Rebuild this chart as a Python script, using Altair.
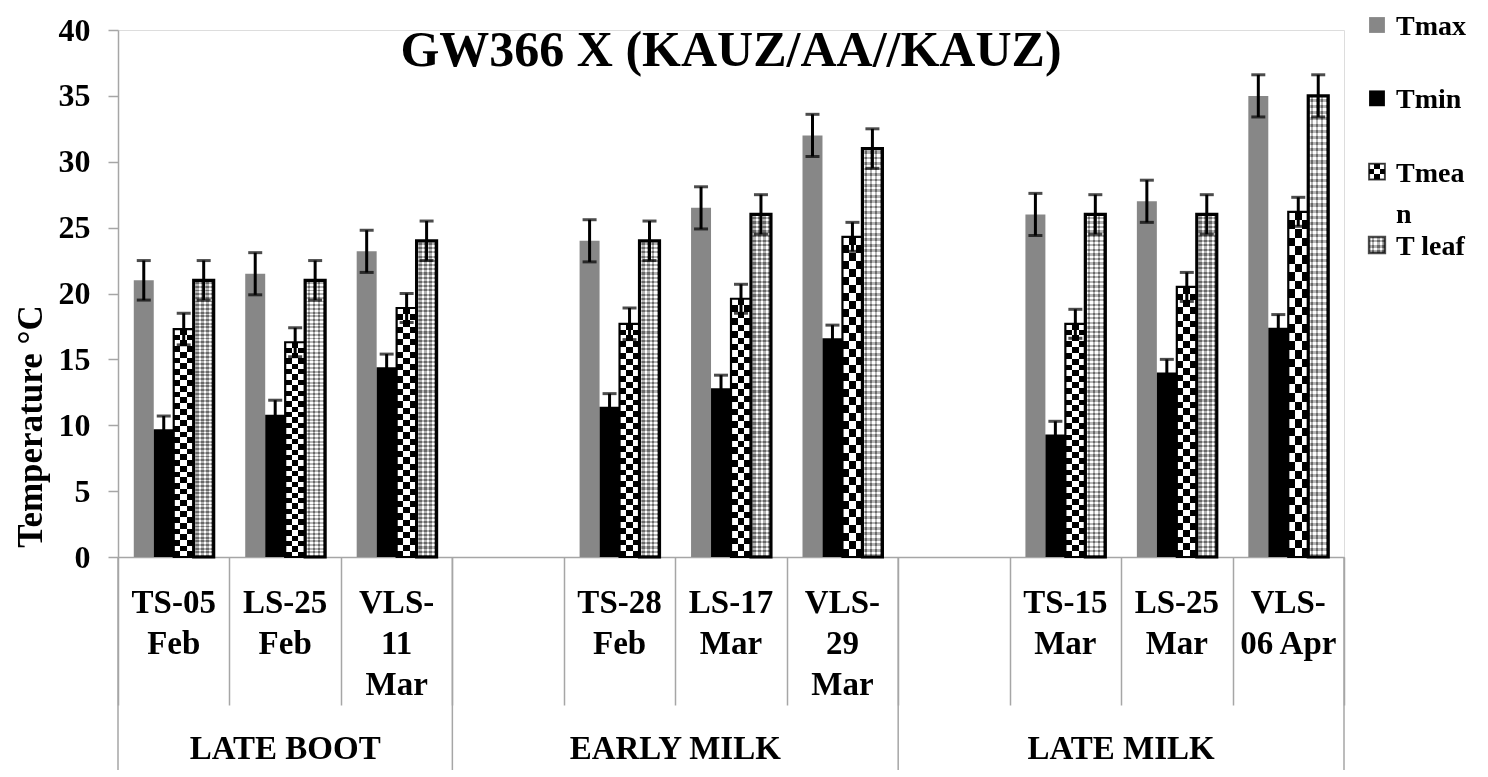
import altair as alt
import pandas as pd

# ---------------- data ----------------
chart_title = ["GW366 X (KAUZ/AA//KAUZ)"]
slots = ["TS-05 Feb", "LS-25 Feb", "VLS-11 Mar", "gap1",
         "TS-28 Feb", "LS-17 Mar", "VLS-29 Mar", "gap2",
         "TS-15 Mar", "LS-25 Mar", "VLS-06 Apr"]
stages = ["TS-05 Feb", "LS-25 Feb", "VLS-11 Mar",
          "TS-28 Feb", "LS-17 Mar", "VLS-29 Mar",
          "TS-15 Mar", "LS-25 Mar", "VLS-06 Apr"]
stage_labels = ["TS-05\nFeb", "LS-25\nFeb", "VLS-\n11\nMar",
                "TS-28\nFeb", "LS-17\nMar", "VLS-\n29\nMar",
                "TS-15\nMar", "LS-25\nMar", "VLS-\n06 Apr"]
series = ["Tmax", "Tmin", "Tmean", "T leaf"]
legend_labels = ["Tmax", "Tmin", "Tmea\nn", "T leaf"]

tmax = [21.0, 21.5, 23.2, 24.0, 26.5, 32.0, 26.0, 27.0, 35.0]
tmin = [9.7, 10.8, 14.4, 11.4, 12.8, 16.6, 9.3, 14.0, 17.4]
tmean = [17.3, 16.3, 18.9, 17.7, 19.6, 24.3, 17.7, 20.5, 26.2]
tleaf = [21.0, 21.0, 24.0, 24.0, 26.0, 31.0, 26.0, 26.0, 35.0]

err_tmax = [1.5, 1.6, 1.6, 1.6, 1.6, 1.6, 1.6, 1.6, 1.6]
err_tmin = [1.0, 1.1, 1.0, 1.0, 1.0, 1.0, 1.0, 1.0, 1.0]
err_tmean = [1.2, 1.1, 1.1, 1.2, 1.1, 1.1, 1.1, 1.1, 1.1]
err_tleaf = [1.5, 1.5, 1.5, 1.5, 1.5, 1.5, 1.5, 1.5, 1.6]

groups = ["LATE BOOT", "EARLY MILK", "LATE MILK"]
group_anchor = ["LS-25 Feb", "LS-17 Mar", "LS-25 Mar"]
y_ticks = [0, 5, 10, 15, 20, 25, 30, 35, 40]

# ---------------- tables ----------------
rows = []
for s, vals, errs in zip(series, [tmax, tmin, tmean, tleaf],
                         [err_tmax, err_tmin, err_tmean, err_tleaf]):
    for st, v, e in zip(stages, vals, errs):
        rows.append({"stage": st, "series": s, "value": v,
                     "lo": v - e, "hi": v + e})
df = pd.DataFrame(rows)
lab_df = pd.DataFrame({"stage": stages, "label": stage_labels})
grp_df = pd.DataFrame({"stage": group_anchor, "group": groups})
leg_df = pd.DataFrame({"series": series, "label": legend_labels})
long_start = pd.DataFrame({"stage": [slots[0], slots[3], slots[7]]})
long_end = pd.DataFrame({"stage": [slots[-1]]})
title_df = pd.DataFrame({"t": chart_title})

# ---------------- styles ----------------
FONT = "Liberation Serif"
GRAY_AX = "#a6a6a6"
W, H = 1226, 527


def stripes(c1, c2, n, along_x):
    stops = []
    for i in range(n):
        c = c1 if i % 2 == 0 else c2
        stops.append({"offset": i / n, "color": c})
        stops.append({"offset": min((i + 1) / n, 1.0), "color": c})
    g = {"gradient": "linear", "stops": stops, "x1": 0, "y1": 0}
    if along_x:
        g.update({"x2": 1, "y2": 0})
    else:
        g.update({"x2": 0, "y2": 1})
    return g


x_axis = alt.Axis(labels=False, title=None, grid=False,
                  domainColor=GRAY_AX, domainWidth=1.5,
                  tickColor=GRAY_AX, tickWidth=1.5, tickSize=148,
                  tickBand="extent")
x_scale = alt.Scale(domain=slots, paddingInner=0, paddingOuter=0)


def X(bp=None):
    if bp is None:
        return alt.X("stage:N", scale=x_scale, axis=x_axis, sort=slots)
    return alt.X("stage:N", scale=x_scale, axis=x_axis, sort=slots,
                 bandPosition=bp)


xoff = alt.XOffset("series:N", sort=series,
                   scale=alt.Scale(domain=series, paddingInner=0,
                                   paddingOuter=0.79))
yscale = alt.Scale(domain=[0, 40], nice=False, zero=True)
y_axis = alt.Axis(values=y_ticks, grid=False, domainColor=GRAY_AX,
                  domainWidth=1.5, tickColor=GRAY_AX, tickWidth=1.5,
                  tickSize=10, labelFont=FONT, labelFontSize=32,
                  labelFontWeight="bold", labelColor="black",
                  labelPadding=18,
                  title="Temperature °C", titleFont=FONT,
                  titleFontSize=35, titleFontWeight="bold",
                  titleColor="black", titleAngle=270, titleX=-77,
                  titleY=396, titleAlign="center",
                  titleBaseline="alphabetic")


def Yv(field="value", axis=None):
    if axis is None:
        return alt.Y(f"{field}:Q", scale=yscale, axis=None)
    return alt.Y(f"{field}:Q", scale=yscale, axis=axis)


base = alt.Chart(df)


def bars(name, axis=None, **mk):
    return base.transform_filter(alt.datum.series == name).mark_bar(**mk).encode(
        x=X(), xOffset=xoff, y=Yv("value", axis))


tmax_bar = bars("Tmax", axis=y_axis, color="#878787")
tmin_bar = bars("Tmin", color="#000000")
tmean_a = bars("Tmean", fill=stripes("#000000", "#ffffff", 3, True))
tmean_b = bars("Tmean", fill=stripes("#ffffff", "#000000", 40, False),
               blend="difference")
tmean_c = bars("Tmean", fill="transparent", stroke="black", strokeWidth=2.2)
tleaf_a = bars("T leaf", fill=stripes("#ffffff", "#b4b4b4", 8, True))
tleaf_b = bars("T leaf", fill=stripes("#000000", "#4b4b4b", 150, False),
               blend="difference")
tleaf_c = bars("T leaf", fill="transparent", stroke="black", strokeWidth=3.2)

err_rule = base.mark_rule(color="black", strokeWidth=3).encode(
    x=X(), xOffset=xoff, y=Yv("lo"), y2="hi:Q")
err_lo = base.mark_tick(color="black", size=14, thickness=3).encode(
    x=X(), xOffset=xoff, y=Yv("lo"))
err_hi = base.mark_tick(color="black", size=14, thickness=3).encode(
    x=X(), xOffset=xoff, y=Yv("hi"))

long_a = alt.Chart(long_start).mark_rule(color=GRAY_AX, strokeWidth=1.5).encode(
    x=X(0), y=alt.value(H), y2=alt.value(H + 213))
long_b = alt.Chart(long_end).mark_rule(color=GRAY_AX, strokeWidth=1.5).encode(
    x=X(1), y=alt.value(H), y2=alt.value(H + 213))

cat_text = alt.Chart(lab_df).mark_text(
    font=FONT, fontSize=33, fontWeight="bold", color="black",
    baseline="top", align="center", lineBreak="\n", lineHeight=41).encode(
    x=X(), y=alt.value(H + 30), text="label:N")

grp_a = alt.Chart(grp_df.iloc[[0]]).mark_text(
    font=FONT, fontSize=33, fontWeight="bold", color="black",
    baseline="alphabetic", align="center").encode(
    x=X(0.5), y=alt.value(H + 202), text="group:N")
grp_b = alt.Chart(grp_df.iloc[[1, 2]]).mark_text(
    font=FONT, fontSize=33, fontWeight="bold", color="black",
    baseline="alphabetic", align="center").encode(
    x=X(0), y=alt.value(H + 202), text="group:N")

title_text = alt.Chart(title_df).mark_text(
    font=FONT, fontSize=50, fontWeight="bold", color="black",
    baseline="alphabetic", align="center").encode(
    x=alt.value(W / 2), y=alt.value(36), text="t:N")

# ---- legend ----
leg_y = alt.Y("series:N", sort=series,
              scale=alt.Scale(type="point", domain=series, range=[-5, 215],
                              padding=0), axis=None)
leg_base = alt.Chart(leg_df)
LEG_X = 1259


def leg_sq(name, **mk):
    return leg_base.transform_filter(alt.datum.series == name).mark_square(
        size=250, **mk).encode(x=alt.value(LEG_X), y=leg_y)


lg_tmax = leg_sq("Tmax", fill="#878787", opacity=1)
lg_tmin = leg_sq("Tmin", fill="#000000", opacity=1)
lg_tmean_a = leg_sq("Tmean", fill=stripes("#000000", "#ffffff", 3, True), opacity=1)
lg_tmean_b = leg_sq("Tmean", fill=stripes("#ffffff", "#000000", 3, False),
                    blend="difference", opacity=1)
lg_tmean_c = leg_sq("Tmean", fill="transparent", stroke="black", strokeWidth=2)
lg_tleaf_a = leg_sq("T leaf", fill=stripes("#ffffff", "#b4b4b4", 6, True), opacity=1)
lg_tleaf_b = leg_sq("T leaf", fill=stripes("#000000", "#4b4b4b", 6, False),
                    blend="difference", opacity=1)
lg_tleaf_c = leg_sq("T leaf", fill="transparent", stroke="black", strokeWidth=2.5)

leg_text = leg_base.mark_text(
    font=FONT, fontSize=28, fontWeight="bold", color="black",
    align="left", baseline="alphabetic", dy=10, lineBreak="\n",
    lineHeight=41).encode(x=alt.value(LEG_X + 19), y=leg_y, text="label:N")

chart = alt.layer(
    tmax_bar, tmin_bar, tmean_a, tmean_b, tmean_c, tleaf_a, tleaf_b, tleaf_c,
    err_rule, err_lo, err_hi,
    long_a, long_b, cat_text, grp_a, grp_b, title_text,
    lg_tmax, lg_tmin, lg_tmean_a, lg_tmean_b, lg_tmean_c,
    lg_tleaf_a, lg_tleaf_b, lg_tleaf_c, leg_text,
).resolve_scale(y="independent").properties(
    width=W, height=H,
    autosize=alt.AutoSizeParams(type="none"),
    padding={"left": 110, "top": 22, "right": 136, "bottom": 220},
).configure_view(stroke=None).configure(background="white")

chart.save("out.html", embed_options={"renderer": "svg", "actions": False})
